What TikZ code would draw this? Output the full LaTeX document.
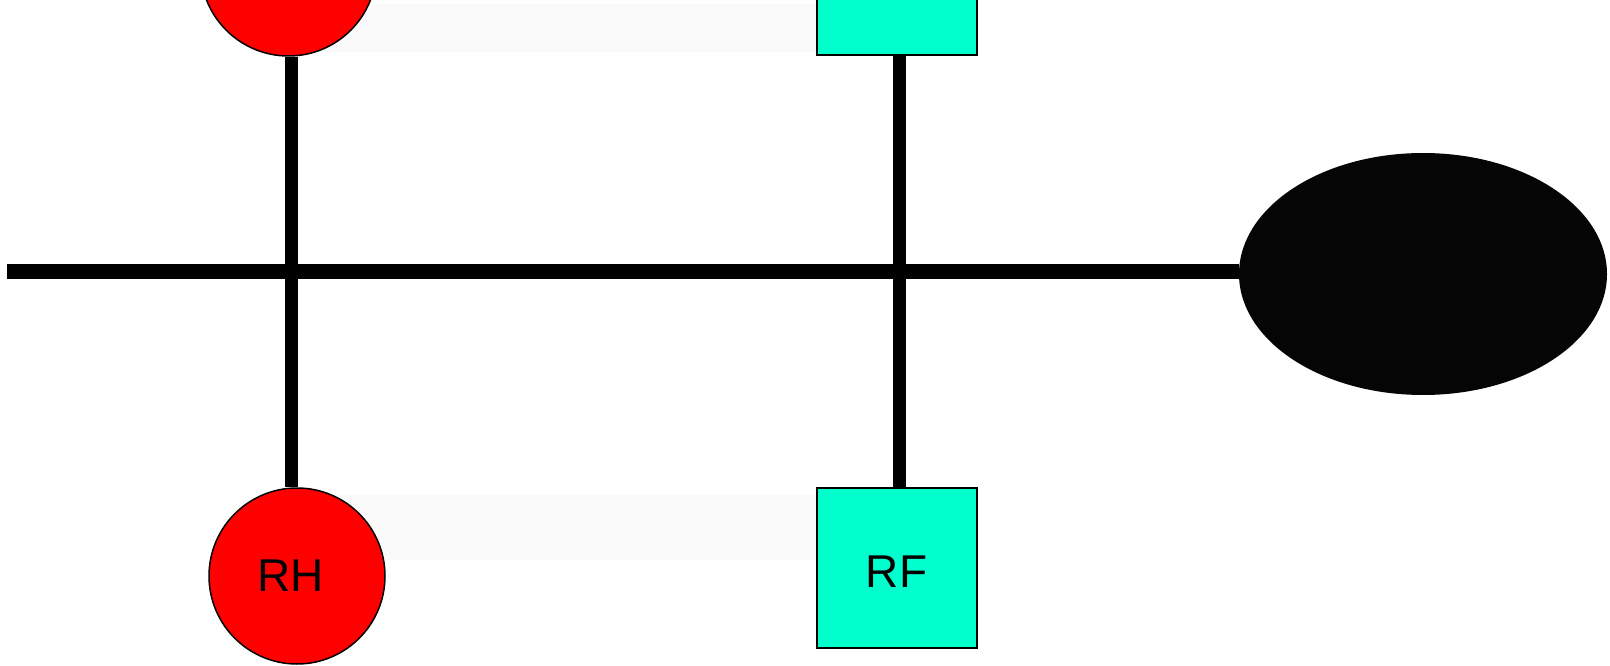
\documentclass[tikz,border=0pt]{standalone}
\usepackage{fontspec}
\setmainfont{Liberation Sans}
\usetikzlibrary{shapes.geometric,backgrounds}
\definecolor{nodered}{HTML}{FF0000}
\definecolor{nodecyan}{HTML}{00FFCC}
\definecolor{bandgray}{HTML}{FAFAFA}
\definecolor{inkblack}{HTML}{050505}
\tikzset{
  redcircle/.style={circle, fill=nodered, draw=black, line width=1.5pt, minimum size=176pt, inner sep=0pt, font=\fontsize{46}{50}\selectfont},
  cyanbox/.style={rectangle, fill=nodecyan, draw=black, line width=2pt, minimum size=160pt, inner sep=0pt, font=\fontsize{46}{50}\selectfont},
  blob/.style={ellipse, fill=inkblack, minimum width=368pt, minimum height=242pt, inner sep=0pt},
  busline/.style={line width=15pt, draw=black},
  stemline/.style={line width=13pt, draw=black},
  band/.style={fill=bandgray}
}
\begin{document}
\begin{tikzpicture}[x=1pt,y=-1pt]
\useasboundingbox (0,0) rectangle (1610,666);
\clip (0,0) rectangle (1610,666);
\node[redcircle] (lh) at (288.5,-32) {};
\node[redcircle] (rh) at (297,576) {\kern-12pt RH};
\node[cyanbox] (lf) at (896.5,-25) {};
\node[cyanbox] (rf) at (896.5,568) {\raisebox{-4pt}[\height][\depth]{RF}};
\node[blob] (ell) at (1423,274) {};
\coordinate (hs) at (7,271);
\begin{scope}[on background layer]
  \fill[band] (lh.center |- 0,4) rectangle (lf.west |- 0,52);
  \fill[band] (rh.center |- 0,495) rectangle (rf.west |- 0,560);
  \draw[busline] (hs) -- (hs -| ell.west);
  \draw[stemline] ([xshift=2.5pt]lh.south) -- ([xshift=-6pt]rh.north);
  \draw[stemline] ([xshift=3pt]lf.south) -- ([xshift=3pt]rf.north);
\end{scope}
\end{tikzpicture}
\end{document}
